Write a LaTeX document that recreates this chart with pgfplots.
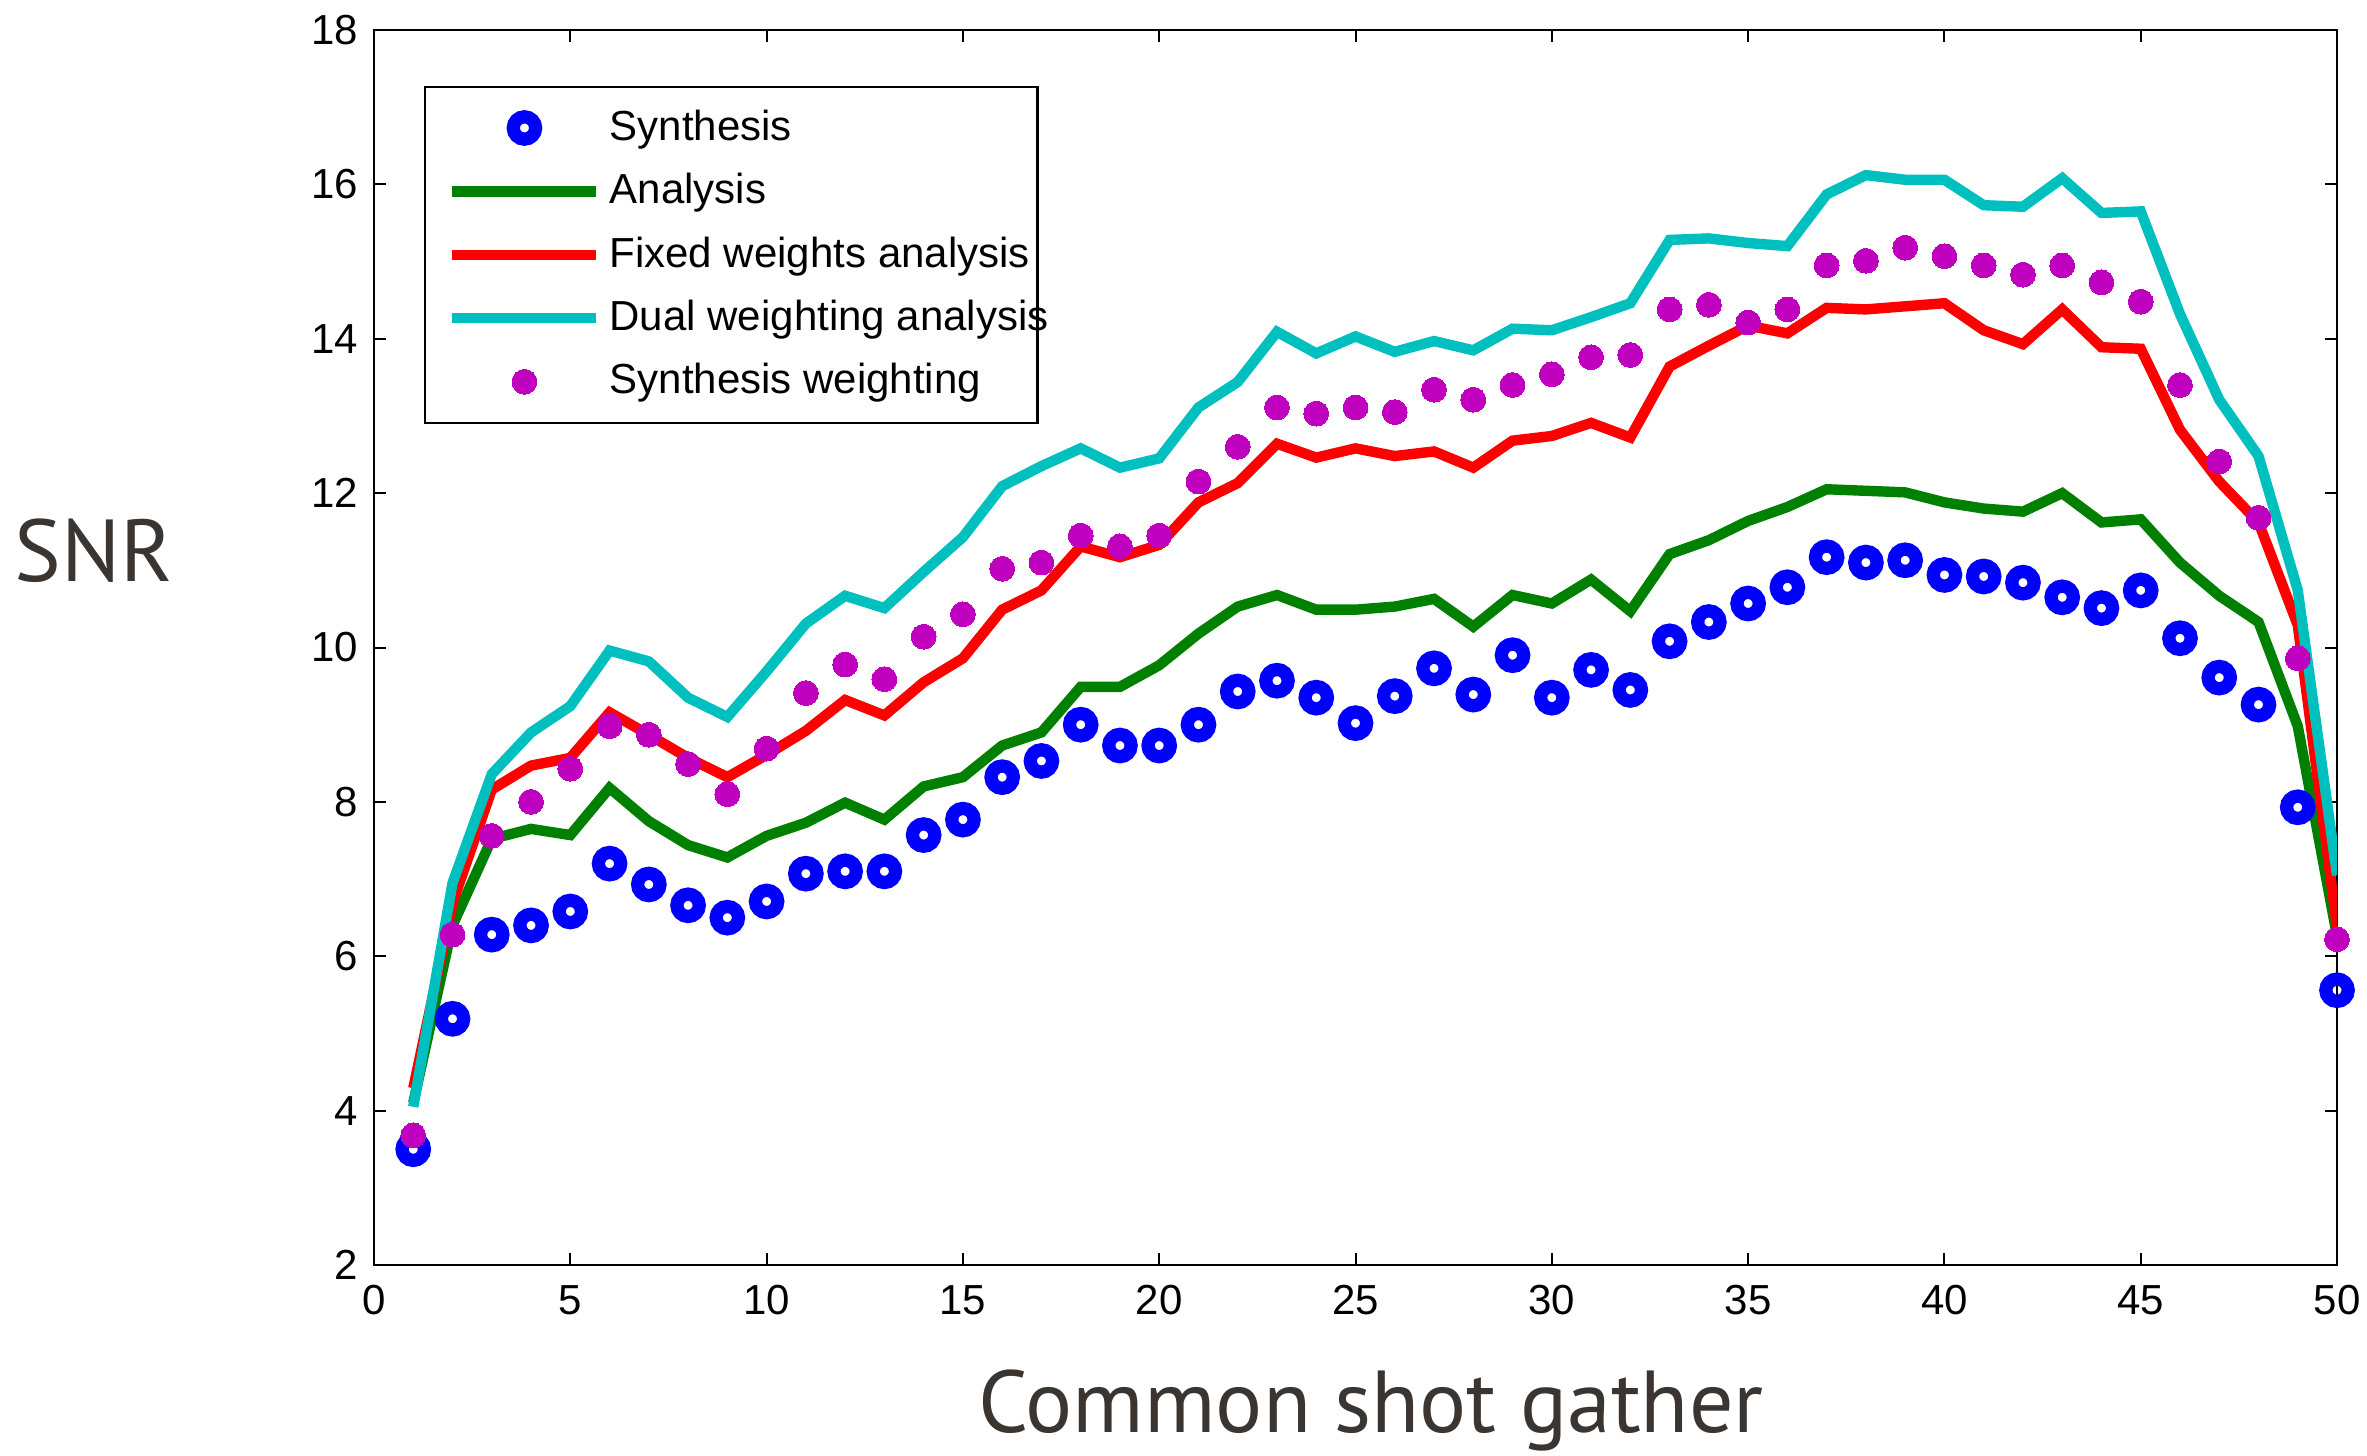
\documentclass[border=0pt]{standalone}
\usepackage{pgfplots}
\pgfplotsset{compat=1.18}
\usepackage{fontspec}
\setmainfont{Liberation Sans}
\newfontfamily\labelfont{PT Sans}
\definecolor{mblue}{RGB}{0,0,255}
\definecolor{mgreen}{RGB}{0,128,0}
\definecolor{mred}{RGB}{255,0,0}
\definecolor{mcyan}{RGB}{0,191,191}
\definecolor{mmag}{RGB}{191,0,191}
\definecolor{lblgray}{RGB}{58,53,48}

\pgfplotstableread{
x syn ana fix dual sw
1 3.50 4.10 4.29 4.05 3.68
2 5.19 6.40 6.69 6.95 6.28
3 6.28 7.52 8.16 8.36 7.56
4 6.40 7.65 8.47 8.90 8.00
5 6.58 7.57 8.57 9.24 8.43
6 7.20 8.18 9.16 9.96 8.98
7 6.93 7.75 8.87 9.82 8.87
8 6.66 7.44 8.57 9.35 8.49
9 6.50 7.28 8.32 9.10 8.10
10 6.71 7.56 8.61 9.69 8.69
11 7.07 7.73 8.92 10.31 9.41
12 7.10 7.99 9.32 10.67 9.78
13 7.10 7.77 9.12 10.51 9.59
14 7.57 8.20 9.55 10.98 10.14
15 7.77 8.32 9.86 11.43 10.43
16 8.32 8.73 10.49 12.09 11.02
17 8.53 8.90 10.74 12.35 11.10
18 9.00 9.49 11.31 12.58 11.45
19 8.73 9.49 11.17 12.33 11.31
20 8.73 9.77 11.33 12.45 11.45
21 9.00 10.18 11.88 13.11 12.15
22 9.43 10.53 12.13 13.44 12.60
23 9.57 10.68 12.64 14.09 13.11
24 9.35 10.49 12.46 13.81 13.03
25 9.02 10.49 12.58 14.03 13.11
26 9.37 10.53 12.48 13.83 13.05
27 9.73 10.63 12.54 13.97 13.34
28 9.39 10.27 12.33 13.85 13.21
29 9.90 10.68 12.68 14.13 13.40
30 9.35 10.57 12.74 14.11 13.54
31 9.71 10.88 12.91 14.28 13.76
32 9.45 10.47 12.72 14.46 13.79
33 10.08 11.21 13.64 15.28 14.38
34 10.33 11.39 13.91 15.30 14.44
35 10.57 11.64 14.17 15.24 14.21
36 10.78 11.82 14.07 15.20 14.38
37 11.17 12.05 14.40 15.87 14.95
38 11.10 12.03 14.38 16.12 15.01
39 11.13 12.01 14.42 16.06 15.18
40 10.94 11.88 14.46 16.06 15.07
41 10.92 11.80 14.11 15.73 14.95
42 10.84 11.76 13.93 15.71 14.83
43 10.65 12.00 14.38 16.08 14.95
44 10.51 11.62 13.89 15.63 14.73
45 10.74 11.66 13.87 15.65 14.48
46 10.12 11.10 12.82 14.32 13.40
47 9.61 10.67 12.15 13.21 12.41
48 9.26 10.33 11.62 12.48 11.68
49 7.93 8.98 10.29 10.74 9.86
50 5.56 6.26 6.38 7.05 6.22
}\snrdata

\newcommand{\lgt}[1]{\makebox[99.5pt][l]{#1}}

\begin{document}
\begin{tikzpicture}
\begin{axis}[
  name=ax,
  scale only axis,
  width=490.75pt, height=308.75pt,
  xmin=0, xmax=50, ymin=2, ymax=18,
  xtick={0,5,...,50}, ytick={2,4,...,18},
  tick align=inside, major tick length=3pt,
  tick style={black, line width=0.5pt},
  axis line style={line width=0.6pt},
  ticklabel style={font=\fontsize{10.5}{12}\selectfont},
  /pgf/number format/assume math mode=true,
  xticklabel style={yshift=-1.5pt},
  yticklabel style={xshift=-0.5pt},
  xlabel={\labelfont\color{lblgray}\fontsize{22}{26}\selectfont Common shot gather},
  ylabel={\labelfont\color{lblgray}\fontsize{22}{26}\selectfont SNR},
  xlabel style={at={(axis description cs:0.508,-0.118)}, anchor=center},
  ylabel style={rotate=-90, at={(axis description cs:-0.1426,0.578)}, anchor=center},
  legend cell align=left,
  legend style={at={(axis description cs:0.0255,0.955)}, anchor=north west,
    draw=black, line width=0.6pt, font=\fontsize{10.5}{12}\selectfont,
    inner xsep=5.5pt, inner ysep=3.75pt, row sep=2.75pt},
  legend image code/.code={\draw[mark repeat=2,mark phase=2,#1] plot coordinates {(0pt,0pt) (18pt,0pt) (36pt,0pt)};},
]
\addplot[only marks, mark=o, mark size=2.8pt, mark options={draw=mblue, line width=3.3pt}] table[x=x,y=syn]{\snrdata};
\addlegendentry{\lgt{Synthesis}}
\addplot[mgreen, line width=2.6pt, no marks] table[x=x,y=ana]{\snrdata};
\addlegendentry{\lgt{Analysis}}
\addplot[mred, line width=2.6pt, no marks] table[x=x,y=fix]{\snrdata};
\addlegendentry{\lgt{Fixed weights analysis}}
\addplot[mcyan, line width=2.6pt, no marks] table[x=x,y=dual]{\snrdata};
\addlegendentry{\lgt{Dual weighting analysis}}
\addplot[only marks, mark=*, mark size=3.1pt, mark options={draw=mmag, fill=mmag, line width=0pt}] table[x=x,y=sw]{\snrdata};
\addlegendentry{\lgt{Synthesis weighting}}
\end{axis}
\pgfresetboundingbox
\path[use as bounding box] ([shift={(-93.5pt,-47.5pt)}]ax.south west) rectangle ([shift={(7.5pt,7.5pt)}]ax.north east);
\end{tikzpicture}
\end{document}
